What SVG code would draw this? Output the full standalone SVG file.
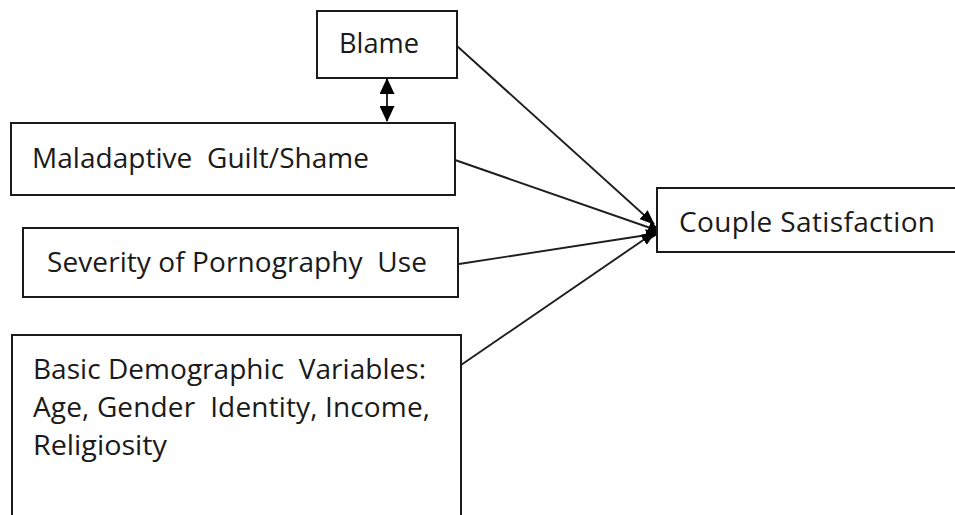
<svg xmlns="http://www.w3.org/2000/svg" width="955" height="515" viewBox="0 0 955 515">
  <style>
    .box { fill: #ffffff; stroke: #1a1a1a; stroke-width: 2; }
    .lbl { font-family: "Open Sans", "Liberation Sans", sans-serif; font-size: 28px; fill: #1a1a1a; }
    .edge { stroke: #1e1e1e; stroke-width: 1.9; fill: none; }
  </style>
  <defs>
    <marker id="head" viewBox="0 0 15 12" refX="14" refY="6" markerWidth="15" markerHeight="12" markerUnits="userSpaceOnUse" orient="auto">
      <path d="M0,0 L15,6 L0,12 Z" fill="#000000"/>
    </marker>
    <marker id="head2" viewBox="0 0 16 15" refX="15" refY="7.5" markerWidth="16" markerHeight="15" markerUnits="userSpaceOnUse" orient="auto-start-reverse">
      <path d="M0,0 L16,7.5 L0,15 Z" fill="#000000"/>
    </marker>
  </defs>

  <rect x="0" y="0" width="955" height="515" fill="#ffffff"/>

  <g id="connectors">
    <line class="edge" x1="457" y1="46" x2="654" y2="224" marker-end="url(#head)"/>
    <line class="edge" x1="455" y1="160" x2="662" y2="232" marker-end="url(#head)"/>
    <line class="edge" x1="459" y1="264" x2="660" y2="233" marker-end="url(#head)"/>
    <line class="edge" x1="461" y1="365" x2="655" y2="232" marker-end="url(#head)"/>
    <line class="edge" x1="387" y1="79" x2="387" y2="121" marker-start="url(#head2)" marker-end="url(#head2)"/>
  </g>

  <g id="blame">
    <rect class="box" x="317" y="11" width="140" height="67"/>
    <text class="lbl" x="339" y="53" textLength="80" lengthAdjust="spacingAndGlyphs">Blame</text>
  </g>

  <g id="guilt-shame">
    <rect class="box" x="11" y="123" width="444" height="72"/>
    <text class="lbl" x="32" y="168" textLength="337" lengthAdjust="spacing" xml:space="preserve">Maladaptive  Guilt/Shame</text>
  </g>

  <g id="severity">
    <rect class="box" x="23" y="228" width="435" height="69"/>
    <text class="lbl" x="47" y="272" textLength="380" lengthAdjust="spacing" xml:space="preserve">Severity of Pornography  Use</text>
  </g>

  <g id="demographics">
    <path class="box" d="M12,518 L12,335 L461,335 L461,518"/>
    <text class="lbl" x="33" y="379" textLength="393" lengthAdjust="spacing" xml:space="preserve">Basic Demographic  Variables:</text>
    <text class="lbl" x="33" y="417" textLength="397" lengthAdjust="spacing" xml:space="preserve">Age, Gender  Identity, Income,</text>
    <text class="lbl" x="33" y="455" textLength="134" lengthAdjust="spacingAndGlyphs">Religiosity</text>
  </g>

  <g id="couple-satisfaction">
    <rect class="box" x="657" y="188" width="305" height="64"/>
    <text class="lbl" x="679" y="232" textLength="256" lengthAdjust="spacing">Couple Satisfaction</text>
  </g>
</svg>
